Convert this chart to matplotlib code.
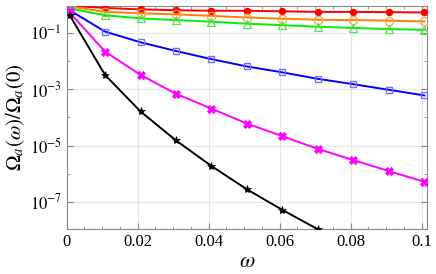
import matplotlib
matplotlib.use("Agg")
import matplotlib.pyplot as plt
import numpy as np
from matplotlib.ticker import FixedLocator, NullFormatter, FixedFormatter

plt.rcParams['font.family'] = ['Liberation Serif', 'DejaVu Serif']
plt.rcParams['mathtext.fontset'] = 'stix'

omega = [0.0008, 0.0108, 0.0208, 0.0308, 0.0408, 0.0508, 0.0608, 0.0708, 0.0808, 0.0908, 0.1008]

# log10 of Omega_a(omega)/Omega_a(0)
log_red = [-0.03, -0.11, -0.16, -0.19, -0.21, -0.21, -0.23, -0.25, -0.25, -0.26, -0.27]
log_orange = [-0.05, -0.25, -0.30, -0.34, -0.39, -0.45, -0.49, -0.53, -0.54, -0.56, -0.59]
log_green = [-0.12, -0.37, -0.48, -0.54, -0.60, -0.67, -0.72, -0.78, -0.82, -0.86, -0.89]
log_blue = [-0.19, -0.95, -1.33, -1.64, -1.93, -2.19, -2.40, -2.63, -2.82, -3.02, -3.22]
log_magenta = [-0.27, -1.66, -2.49, -3.16, -3.69, -4.22, -4.67, -5.12, -5.52, -5.91, -6.29]
log_black = [-0.36, -2.49, -3.79, -4.82, -5.73, -6.56, -7.29, -7.98, -8.6, -9.2, -9.8]

# (values, line colour, marker, marker face, marker edge, size, edge width)
series = [
    (log_red, '#ff0000', 'o', '#ff0000', '#ff0000', 4.5, 0.8),
    (log_orange, '#ff8000', 'o', 'none', '#ffa040', 6, 0.9),
    (log_green, '#00ee00', '^', 'none', '#50e050', 5.5, 0.9),
    (log_blue, '#0000ff', 's', 'none', '#7070ff', 4.5, 1.0),
    (log_magenta, '#ff00ff', 'X', '#ff00ff', '#ff00ff', 6, 0.6),
    (log_black, '#000000', '*', '#000000', '#000000', 6, 0.5),
]

fig = plt.figure(figsize=(4.36, 2.74), dpi=100)
ax = fig.add_axes([0.153, 0.164, 0.826, 0.815])

for logs, col, mk, fc, ec, ms, mew in series:
    vals = [10.0 ** v for v in logs]
    ax.plot(omega, vals, color=col, lw=1.4, marker=mk, ms=ms,
            markerfacecolor=fc, markeredgecolor=ec, markeredgewidth=mew,
            clip_on=True, zorder=3)

ax.set_yscale('log')
ax.set_xlim(0, 0.1015)
ax.set_ylim(1.07e-8, 0.93)

ax.yaxis.set_major_locator(FixedLocator([1e-1, 1e-3, 1e-5, 1e-7]))
ax.yaxis.set_major_formatter(FixedFormatter([r'$10^{-1}$', r'$10^{-3}$', r'$10^{-5}$', r'$10^{-7}$']))
ax.yaxis.set_minor_locator(FixedLocator([1e-2, 1e-4, 1e-6, 1e-8]))
ax.yaxis.set_minor_formatter(NullFormatter())

ax.set_xticks([0, 0.02, 0.04, 0.06, 0.08, 0.1])
ax.set_xticklabels(['0', '0.02', '0.04', '0.06', '0.08', '0.1'])
ax.xaxis.set_minor_locator(FixedLocator(np.arange(0, 0.1001, 0.005)))

ax.tick_params(which='both', direction='in', top=True, right=True, color='#888888',
               labelsize=12)
ax.tick_params(which='major', length=4)
ax.tick_params(which='minor', length=2.5)

ax.grid(True, which='major', color='#e6e6e6', lw=0.8)
for s in ax.spines.values():
    s.set_color('#888888')

ax.set_xlabel(r'$\omega$', fontsize=16, labelpad=2)
ax.set_ylabel(r'$\Omega_a(\omega)/\Omega_a(0)$', fontsize=15, labelpad=2)

fig.savefig('out.png', dpi=100)
